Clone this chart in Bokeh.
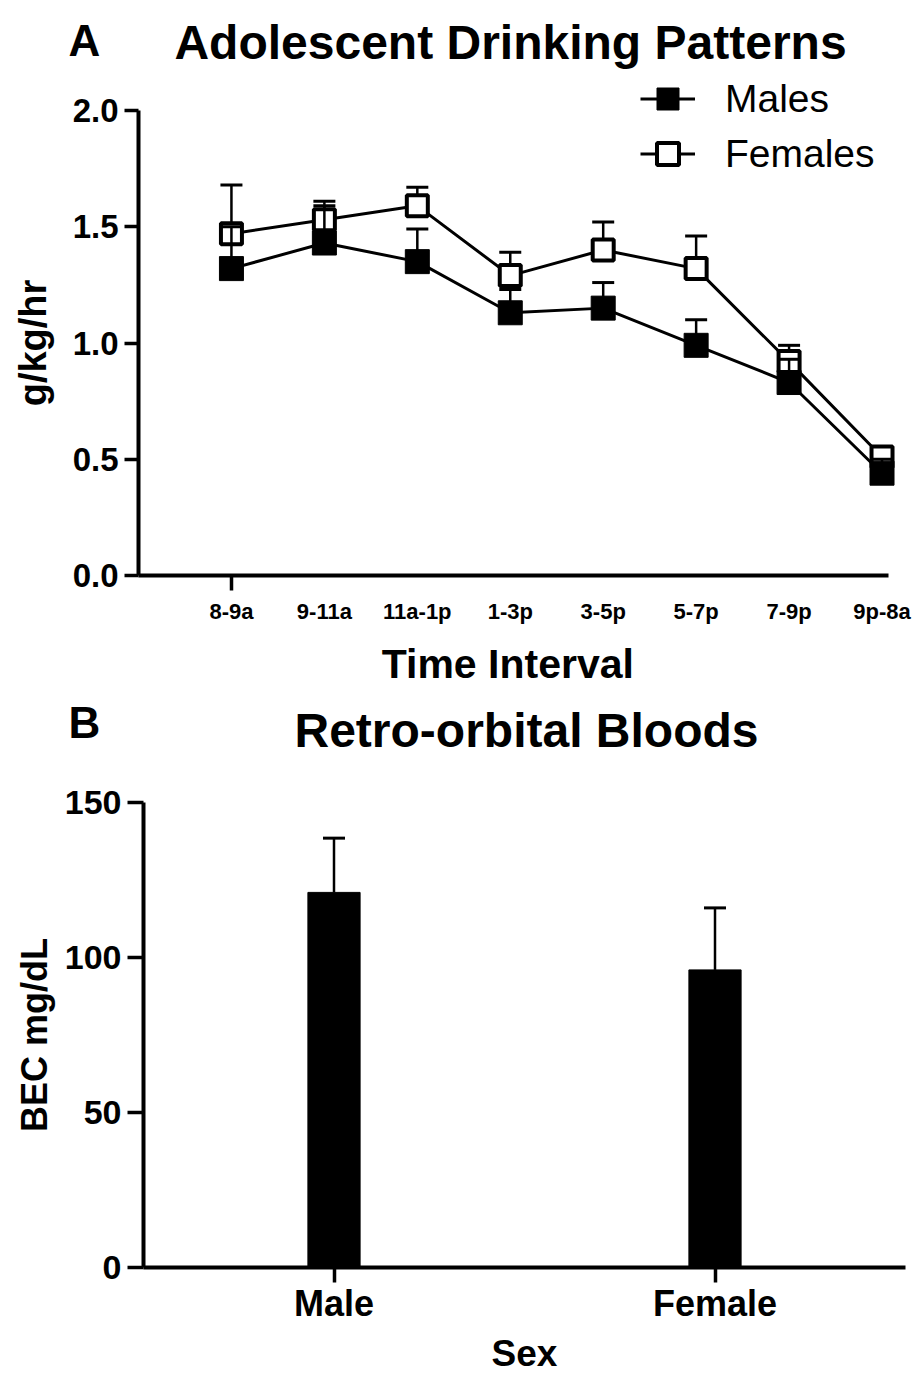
from bokeh.plotting import figure
from bokeh.models import (Range1d, FixedTicker, PrintfTickFormatter, Label, Legend,
                          LegendItem)
from bokeh.layouts import column
from bokeh.embed import file_html
from bokeh.resources import INLINE

# ---------------- data ----------------
intervals = ["8-9a", "9-11a", "11a-1p", "1-3p", "3-5p", "5-7p", "7-9p", "9p-8a"]
males = [1.32, 1.43, 1.35, 1.13, 1.15, 0.99, 0.83, 0.44]
males_sem = [0.18, 0.16, 0.14, 0.10, 0.11, 0.11, 0.10, 0.06]
females = [1.47, 1.53, 1.59, 1.29, 1.40, 1.32, 0.92, 0.51]
females_sem = [0.21, 0.08, 0.08, 0.10, 0.12, 0.14, 0.07, 0.04]
y_ticks_a = [0.0, 0.5, 1.0, 1.5, 2.0]

sexes = ["Male", "Female"]
bec = [121, 96]
bec_sem = [17.5, 20]
y_ticks_b = [0, 50, 100, 150]

FONT = "Liberation Sans"
W = 917


def style_axes(p):
    for ax in p.axis:
        ax.fixed_location = 0
        ax.axis_line_width = 4
        ax.axis_line_color = "black"
        ax.major_tick_line_width = 3.5
        ax.major_tick_line_color = "black"
        ax.major_tick_in = 0
        ax.minor_tick_line_color = None
        ax.major_label_text_font = FONT
        ax.major_label_text_font_style = "bold"
        ax.major_label_text_color = "black"
        ax.axis_label_text_font = FONT
        ax.axis_label_text_font_style = "bold"
        ax.axis_label_text_color = "black"
    p.grid.visible = False
    p.outline_line_color = None


def add_text(p, x, y, text, size, align):
    p.add_layout(Label(x=x, y=y, text=text, text_font=FONT, text_font_style="bold",
                       text_font_size=size, text_baseline="alphabetic",
                       text_align=align, text_color="black"))


# ---------------- panel A ----------------
H1 = 690
# pixel geometry of panel A (frame = whole canvas, axes fixed at 0)
A_X0, A_PX = 138, 92.94      # canvas x of x=0, px per interval
A_Y0, A_PY = 575, 232.5      # canvas y of y=0, px per g/kg/hr
ax_ = lambda px: (px - A_X0) / A_PX
ay_ = lambda py: (A_Y0 - py) / A_PY

xs = list(range(1, len(intervals) + 1))
male_top = [m + s for m, s in zip(males, males_sem)]
female_top = [f + s for f, s in zip(females, females_sem)]

p1 = figure(width=W, height=H1, min_border=0,
            x_range=Range1d(ax_(0), ax_(W)), y_range=Range1d(ay_(H1), ay_(0)),
            output_backend="svg", toolbar_location=None, tools="")
style_axes(p1)

# females first
p1.segment(x0=xs, y0=females, x1=xs, y1=female_top, line_width=2.5, color="black")
p1.scatter(xs, female_top, marker="dash", size=22, line_width=3, color="black")
rf_line = p1.line(xs, females, line_width=3, color="black")
rf_pts = p1.scatter(xs, females, marker="square", size=21, fill_color="white",
                    line_color="black", line_width=4)
# males on top
p1.segment(x0=xs, y0=males, x1=xs, y1=male_top, line_width=2.5, color="black")
p1.scatter(xs, male_top, marker="dash", size=22, line_width=3, color="black")
rm_line = p1.line(xs, males, line_width=3, color="black")
rm_pts = p1.scatter(xs, males, marker="square", size=24, color="black")

xa = p1.xaxis[0]
xa.bounds = (0, ax_(888))
xa.ticker = FixedTicker(ticks=xs, minor_ticks=[xs[0]])
xa.major_label_overrides = {x: lab for x, lab in zip(xs, intervals)}
xa.major_tick_line_color = None
xa.major_tick_out = 15
xa.minor_tick_line_color = "black"
xa.minor_tick_line_width = 3.5
xa.minor_tick_out = 15
xa.minor_tick_in = 0
xa.major_label_text_font_size = "22px"
xa.major_label_standoff = 8
xa.axis_label = "Time  Interval"
xa.axis_label_text_font_size = "41px"
xa.axis_label_standoff = 14

ya = p1.yaxis[0]
ya.bounds = (y_ticks_a[0], y_ticks_a[-1])
ya.ticker = FixedTicker(ticks=y_ticks_a)
ya.formatter = PrintfTickFormatter(format="%.1f")
ya.major_tick_out = 14
ya.major_label_text_font_size = "33px"
ya.major_label_standoff = 6
ya.axis_label = "g/kg/hr"
ya.axis_label_text_font_size = "38px"
ya.axis_label_standoff = 16

legend = Legend(items=[LegendItem(label="Males", renderers=[rm_line, rm_pts]),
                       LegendItem(label="Females", renderers=[rf_line, rf_pts])],
                location=(640, H1 - 181), glyph_width=55, glyph_height=55, spacing=-2,
                label_standoff=30, padding=0, margin=0, border_line_color=None,
                background_fill_alpha=0, label_text_font=FONT,
                label_text_font_size="39px", label_text_color="black")
p1.add_layout(legend)

add_text(p1, ax_(68), ay_(40), "A", "44px", "left")
add_text(p1, ax_(510), ay_(42), "Adolescent Drinking Patterns", "48px", "center")

# ---------------- panel B ----------------
H2 = 684
B_X0, B_PX = 143, 381.0      # canvas x of x=0, px per category slot
B_Y0, B_PY = 577, 3.1        # canvas y of y=0 (relative to panel top), px per mg/dL
bx_ = lambda px: (px - B_X0) / B_PX
by_ = lambda py: (B_Y0 - py) / B_PY

sx = [i + 0.5 for i in range(len(sexes))]
bec_top = [b + s for b, s in zip(bec, bec_sem)]

p2 = figure(width=W, height=H2, min_border=0,
            x_range=Range1d(bx_(0), bx_(W)), y_range=Range1d(by_(H2), by_(0)),
            output_backend="svg", toolbar_location=None, tools="")
style_axes(p2)

p2.vbar(x=sx, top=bec, width=0.137, color="black")
p2.segment(x0=sx, y0=bec, x1=sx, y1=bec_top, line_width=2.5, color="black")
p2.scatter(x=sx, y=bec_top, marker="dash", size=22, line_width=3, color="black")

xb = p2.xaxis[0]
xb.bounds = (0, len(sexes))
xb.ticker = FixedTicker(ticks=sx)
xb.major_label_overrides = {x: lab for x, lab in zip(sx, sexes)}
xb.major_tick_out = 15
xb.major_label_text_font_size = "36px"
xb.major_label_standoff = 0
xb.axis_label = "Sex"
xb.axis_label_text_font_size = "37px"
xb.axis_label_standoff = 6

yb = p2.yaxis[0]
yb.bounds = (y_ticks_b[0], y_ticks_b[-1])
yb.ticker = FixedTicker(ticks=y_ticks_b)
yb.major_tick_out = 16
yb.major_label_text_font_size = "34px"
yb.major_label_standoff = 6
yb.axis_label = "BEC mg/dL"
yb.axis_label_text_font_size = "36px"
yb.axis_label_standoff = 7

add_text(p2, bx_(68), by_(722 - H1), "B", "44px", "left")
add_text(p2, bx_(526), by_(730 - H1), "Retro-orbital Bloods", "48px", "center")

layout = column(p1, p2)
open("out.html", "w").write(file_html(layout, INLINE))
